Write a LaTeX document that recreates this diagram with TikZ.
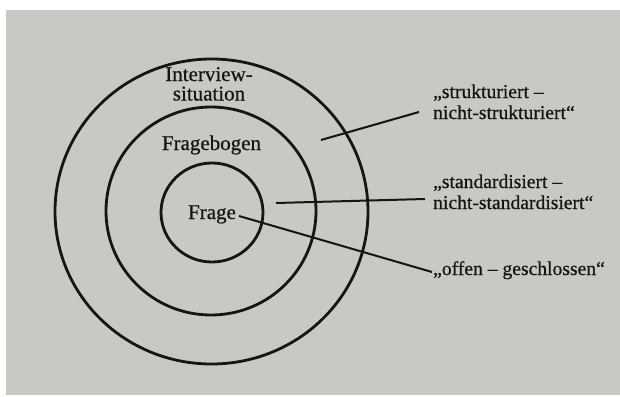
\documentclass[tikz,border=0pt]{standalone}
\usepackage{fontspec}
\setmainfont{Liberation Serif}[FakeBold=0.6]
\usetikzlibrary{shapes.geometric}
\definecolor{paper}{RGB}{201,201,195}
\definecolor{ink}{RGB}{22,20,20}
\tikzset{
  ring/.style={draw=ink, line width=2.8pt, ellipse, inner sep=0pt},
  inlabel/.style={text=ink, font=\fontsize{21}{19.5}\selectfont, align=center, inner sep=0pt, anchor=base},
  outlabel/.style={text=ink, font=\fontsize{19.6}{21}\selectfont, align=left, inner sep=0pt, anchor=base west},
  conn/.style={draw=ink, line width=2pt}
}
\begin{document}
\begin{tikzpicture}[x=1pt,y=-1pt]
\useasboundingbox (0,0) rectangle (620,396);
\fill[white] (0,0) rectangle (620,396);
\fill[paper] (6,10) rectangle (620,395);
% rings
\node[ring, minimum width=313pt, minimum height=305pt] (outer) at (211.5,211.5) {};
\node[ring, minimum width=210pt, minimum height=208pt] (middle) at (211,211) {};
\node[ring, minimum width=102pt, minimum height=99pt] (inner) at (212,212.5) {};
% ring labels (base anchor = baseline of last line)
\node[inlabel] (interview) at (209,100.5) {Interview-\\situation};
\node[inlabel] (fragebogen) at (211.5,150) {Fragebogen};
\node[inlabel] (frage) at (212,219) {Frage};
% outside labels
\node[outlabel] (struk) at (433,119) {„strukturiert –\\nicht-strukturiert“};
\node[outlabel] (stand) at (433,209) {„standardisiert –\\nicht-standardisiert“};
\node[outlabel] (offen) at (433,275) {„offen – geschlossen“};
% connector ends
\coordinate (s1) at (321,140);
\coordinate (s2) at (419,112);
\coordinate (t1) at (276,203);
\coordinate (t2) at (425,199);
\coordinate (o1) at (239,216);
\coordinate (o2) at (432,272);
\draw[conn] (s1) -- (s2);
\draw[conn] (t1) -- (t2);
\draw[conn] (o1) -- (o2);
\end{tikzpicture}
\end{document}
